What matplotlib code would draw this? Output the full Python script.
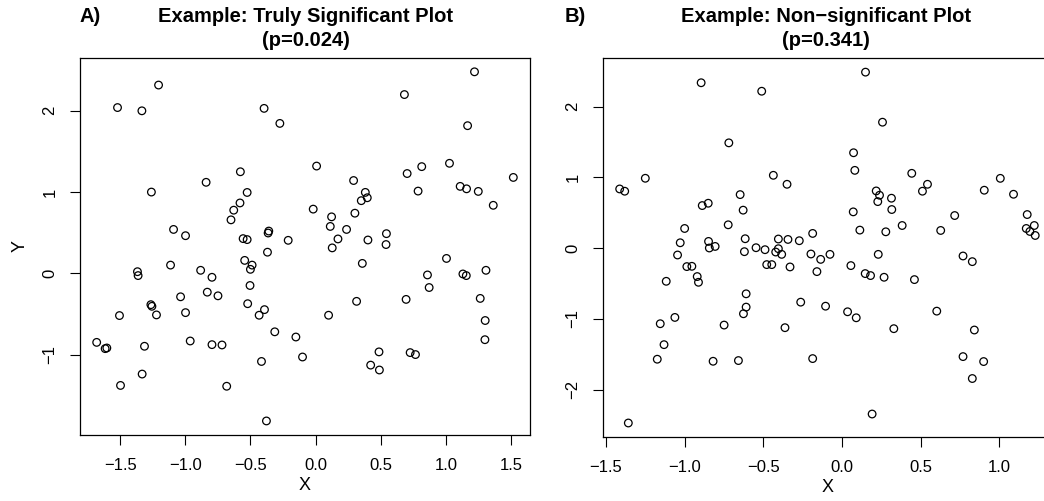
import matplotlib
matplotlib.use("Agg")
import matplotlib.pyplot as plt

plt.rcParams['font.family'] = ['Liberation Sans', 'DejaVu Sans']

# Panel A data
a_x = [-1.205, -1.52, -1.333, -0.395, -0.274, -0.577, -0.84, -1.26, -0.525, -0.58,
       -0.628, -0.649, -0.018, -1.09, -0.998, -0.556, -0.525, -0.359, -0.364, -0.21,
       1.22, 0.682, 1.167, 0.008, 1.028, 0.815, 0.703, 1.518, 0.292, 1.11,
       1.159, 1.249, 0.787, 0.382, 0.351, 0.397, 1.364, 0.302, 0.123, 0.113,
       0.238, 0.544, 0.172, 0.402, 0.541, 0.128, 0.359, 1.005, 0.859, 1.131,
       1.157, 1.308, 0.872, 0.315, 0.695, 1.264, 0.10, 1.302, 1.30, -0.10,
       0.487, 0.726, 0.767, 0.423, 0.49, -0.369, -1.113, -0.544, -0.487, -0.50,
       -1.367, -1.362, -0.882, -0.795, -0.503, -0.831, -0.749, -1.036, -0.521, -0.392,
       -0.433, -1.264, -1.256, -1.221, -1.505, -0.998, -0.313, -0.151, -1.68, -1.615,
       -1.602, -1.313, -0.962, -0.795, -0.718, -0.415, -1.331, -1.497, -0.682, -0.377]
a_y = [2.317, 2.04, 2.00, 2.03, 1.845, 1.25, 1.12, 1.00, 0.995, 0.866,
       0.777, 0.658, 0.79, 0.54, 0.463, 0.427, 0.415, 0.52, 0.496, 0.406,
       2.48, 2.2, 1.817, 1.32, 1.354, 1.313, 1.228, 1.18, 1.142, 1.07,
       1.04, 1.008, 1.012, 0.996, 0.894, 0.93, 0.837, 0.74, 0.695, 0.577,
       0.54, 0.488, 0.423, 0.41, 0.354, 0.313, 0.122, 0.183, -0.02, -0.008,
       -0.028, 0.037, -0.175, -0.345, -0.321, -0.309, -0.516, -0.581, -0.817, -1.03,
       -0.967, -0.976, -1.0, -1.13, -1.19, 0.26, 0.101, 0.159, 0.101, 0.049,
       0.02, -0.028, 0.037, -0.049, -0.15, -0.232, -0.277, -0.289, -0.374, -0.447,
       -0.516, -0.386, -0.406, -0.512, -0.52, -0.484, -0.72, -0.784, -0.85, -0.927,
       -0.919, -0.898, -0.833, -0.878, -0.882, -1.085, -1.24, -1.38, -1.39, -1.817]

# Panel B data
b_x = [-0.895, -0.51, -0.719, -1.25, -1.413, -1.381, -0.436, -0.349, -0.647, -0.888,
       -0.85, -0.628, -0.723, -1.0, -0.186, -1.028, -0.848, -0.806, -0.843, -0.615,
       -0.404, -0.343, -0.271, -0.62, -0.546, -0.489, -0.404, -0.421, -0.383, -1.045,
       -0.986, -0.954, -0.478, -0.446, -0.33, -0.197, -0.135, -0.076, -0.159, -0.92,
       -0.912, -1.117, -0.609, -0.262, -0.609, -0.626, -1.062, -1.155, -0.749, -0.362,
       -1.131, -1.174, -0.819, -0.658, -0.186, -1.358, 0.15, 0.258, 0.074, 0.082,
       0.444, 1.007, 0.544, 0.512, 0.905, 1.091, 0.218, 0.239, 0.228, 0.315,
       0.317, 0.072, 0.717, 1.178, 0.114, 0.279, 0.383, 0.628, 1.172, 1.195,
       1.223, 1.229, 0.057, 0.148, 0.182, 0.231, 0.268, 0.461, 0.77, 0.829,
       -0.104, 0.036, 0.091, 0.33, 0.603, 0.842, 0.77, 0.901, 0.829, 0.192]
b_y = [2.34, 2.22, 1.49, 0.989, 0.838, 0.806, 1.031, 0.904, 0.758, 0.603,
       0.636, 0.538, 0.331, 0.279, 0.209, 0.077, 0.096, 0.025, 0.003, 0.134,
       0.13, 0.124, 0.106, -0.049, 0.007, -0.021, -0.007, -0.054, -0.087, -0.096,
       -0.26, -0.256, -0.232, -0.232, -0.265, -0.082, -0.158, -0.087, -0.331, -0.401,
       -0.482, -0.468, -0.645, -0.763, -0.833, -0.927, -0.979, -1.068, -1.087, -1.124,
       -1.364, -1.57, -1.599, -1.589, -1.561, -2.472, 2.49, 1.782, 1.35, 1.101,
       1.059, 0.988, 0.904, 0.806, 0.82, 0.763, 0.81, 0.749, 0.659, 0.707,
       0.547, 0.514, 0.462, 0.476, 0.256, 0.232, 0.321, 0.251, 0.279, 0.237,
       0.321, 0.18, -0.246, -0.359, -0.387, -0.087, -0.411, -0.444, -0.11, -0.19,
       -0.82, -0.899, -0.984, -1.138, -0.89, -1.157, -1.533, -1.603, -1.843, -2.345]

a_xticks = [-1.5, -1.0, -0.5, 0.0, 0.5, 1.0, 1.5]
a_yticks = [-1, 0, 1, 2]
b_xticks = [-1.5, -1.0, -0.5, 0.0, 0.5, 1.0]
b_yticks = [-2, -1, 0, 1, 2]

W, H = 1044, 501
fig = plt.figure(figsize=(W / 100, H / 100), dpi=100)


def style_axes(ax, xticks, yticks):
    for s in ax.spines.values():
        s.set_linewidth(0.9)
    ax.tick_params(direction='out', length=7.2, width=0.8, labelsize=12, pad=9)
    ax.set_xticks(xticks)
    ax.set_xticklabels([f"{t:.1f}".replace('-', '\u2212') for t in xticks])
    ax.set_yticks(yticks)
    ax.set_yticklabels([str(t).replace('-', '\u2212') for t in yticks],
                       rotation=90, va='center')


# Panel A
ax1 = fig.add_axes([80 / W, 1 - 435 / H, 450 / W, 377 / H])
ax1.scatter(a_x, a_y, s=30, facecolors='none', edgecolors='black', linewidths=0.9)
ax1.set_xlim(-1.808, 1.646)
ax1.set_ylim(-1.99, 2.65)
style_axes(ax1, a_xticks, a_yticks)
ax1.set_xlabel("X", fontsize=13, labelpad=3)
ax1.set_ylabel("Y", fontsize=13, labelpad=10)

# Panel B
ax2 = fig.add_axes([603 / W, 1 - 437 / H, 450 / W, 379 / H])
ax2.scatter(b_x, b_y, s=30, facecolors='none', edgecolors='black', linewidths=0.9)
ax2.set_xlim(-1.519, 1.342)
ax2.set_ylim(-2.67, 2.69)
style_axes(ax2, b_xticks, b_yticks)
ax2.set_xlabel("X", fontsize=13, labelpad=3)

# Titles
for cx, lines, tag, tx in [(306, ("Example: Truly Significant Plot", "(p=0.024)"), "A)", 80),
                           (826, ("Example: Non\u2212significant Plot", "(p=0.341)"), "B)", 565)]:
    fig.text(cx / W, 1 - 16 / H, lines[0], ha='center', va='center', fontsize=14.5, fontweight='bold')
    fig.text(cx / W, 1 - 40 / H, lines[1], ha='center', va='center', fontsize=14.5, fontweight='bold')
    fig.text(tx / W, 1 - 16 / H, tag, ha='left', va='center', fontsize=14.5, fontweight='bold')

fig.savefig("out.png", dpi=100)
